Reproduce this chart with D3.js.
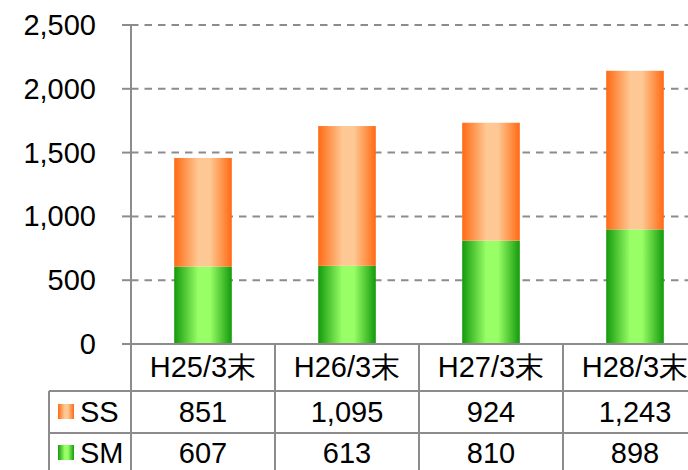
<!DOCTYPE html>
<html>
<head>
<meta charset="utf-8">
<script src="https://cdn.jsdelivr.net/npm/d3@7"></script>
<style>
  html, body { margin: 0; padding: 0; background: #fff; overflow: hidden; }
  svg { display: block; }
  text { font-family: "Liberation Sans", Arial, sans-serif; fill: #000; }
</style>
</head>
<body>
<svg id="chart" width="688" height="470"></svg>
<script>
// Year-end counts (SS stacked on top of SM)
const categories = ["H25/3末", "H26/3末", "H27/3末", "H28/3末"];
const seriesNames = ["SS", "SM"];
const ssValues = [851, 1095, 924, 1243];
const smValues = [607, 613, 810, 898];
const yTicks = [0, 500, 1000, 1500, 2000, 2500];

const svg = d3.select("#chart");
const fmt = d3.format(",");
const fontSize = 29;
const lineColor = "#8c8c8c";

const plotLeft = 131, plotRight = 707;
const x = d3.scaleBand().domain(categories).range([plotLeft, plotRight]).padding(0);
const y = d3.scaleLinear().domain([0, 2500]).range([344, 25]);
const barW = x.bandwidth() * 0.4;

// Gradients: dark edges, light centre
const defs = svg.append("defs");
function grad(id, edge, mid) {
  const g = defs.append("linearGradient").attr("id", id)
    .attr("x1", "0%").attr("x2", "100%").attr("y1", "0%").attr("y2", "0%");
  [[0, edge], [0.42, mid], [0.62, mid], [1, edge]].forEach(([o, c]) =>
    g.append("stop").attr("offset", o).attr("stop-color", c));
}
grad("gSS", "#ff6a14", "#fdc893");
grad("gSM", "#149a0c", "#99ff66");

// Horizontal gridlines
const grid = svg.append("g");
grid.selectAll("line.grid").data(yTicks.filter(d => d > 0)).join("line")
  .attr("class", "grid")
  .attr("x1", plotLeft).attr("x2", 688)
  .attr("y1", d => y(d)).attr("y2", d => y(d))
  .attr("stroke", lineColor).attr("stroke-width", 2)
  .attr("stroke-dasharray", "7.5,6");
// Tick marks left of the axis
grid.selectAll("line.tick").data(yTicks).join("line")
  .attr("class", "tick")
  .attr("x1", 122).attr("x2", plotLeft)
  .attr("y1", d => y(d)).attr("y2", d => y(d))
  .attr("stroke", lineColor).attr("stroke-width", 2);

// Y tick labels
svg.append("g").selectAll("text").data(yTicks).join("text")
  .attr("x", 96).attr("y", d => y(d))
  .attr("text-anchor", "end").attr("dominant-baseline", "central")
  .style("font-size", fontSize + "px")
  .text(d => fmt(d));

// Stacked bars
const rows = categories.map((c, i) => ({ cat: c, SM: smValues[i], SS: ssValues[i] }));
const stack = d3.stack().keys(["SM", "SS"])(rows);
svg.append("g").selectAll("g").data(stack).join("g")
  .attr("fill", d => d.key === "SS" ? "url(#gSS)" : "url(#gSM)")
  .selectAll("rect").data(d => d).join("rect")
  .attr("x", d => x(d.data.cat) + (x.bandwidth() - barW) / 2)
  .attr("width", barW)
  .attr("y", d => y(d[1]))
  .attr("height", d => y(d[0]) - y(d[1]));

// Data table lines
const rowTop = 344, rowCat = 391, rowSS = 433, bottom = 470;
const t = svg.append("g").attr("stroke", lineColor).attr("stroke-width", 2);
t.append("line").attr("x1", 122).attr("x2", 688).attr("y1", rowTop).attr("y2", rowTop);
t.append("line").attr("x1", 49).attr("x2", 688).attr("y1", rowCat).attr("y2", rowCat);
t.append("line").attr("x1", 49).attr("x2", 688).attr("y1", rowSS).attr("y2", rowSS);
t.append("line").attr("x1", 49).attr("x2", 49).attr("y1", rowCat).attr("y2", bottom);
t.append("line").attr("x1", plotLeft).attr("x2", plotLeft).attr("y1", y(2500)).attr("y2", bottom);
t.selectAll("line.col").data(categories.slice(1)).join("line")
  .attr("class", "col")
  .attr("x1", d => x(d)).attr("x2", d => x(d))
  .attr("y1", rowTop).attr("y2", bottom);

// Category labels
svg.append("g").selectAll("text").data(categories).join("text")
  .attr("x", d => x(d) + x.bandwidth() / 2).attr("y", 367)
  .attr("text-anchor", "middle").attr("dominant-baseline", "central")
  .style("font-size", fontSize + "px")
  .text(d => d);

// Value rows with legend keys
const tableRows = [
  { name: "SS", values: ssValues, fill: "url(#gSS)", cy: 412 },
  { name: "SM", values: smValues, fill: "url(#gSM)", cy: 453 }
];
tableRows.forEach(r => {
  svg.append("rect").attr("x", 58).attr("y", r.cy - 8).attr("width", 16).attr("height", 15)
    .attr("fill", r.fill);
  svg.append("text").attr("x", 80).attr("y", r.cy)
    .attr("dominant-baseline", "central").style("font-size", fontSize + "px").text(r.name);
  svg.append("g").selectAll("text").data(r.values).join("text")
    .attr("x", (d, i) => x(categories[i]) + x.bandwidth() / 2).attr("y", r.cy)
    .attr("text-anchor", "middle").attr("dominant-baseline", "central")
    .style("font-size", fontSize + "px")
    .text(d => fmt(d));
});
</script>
</body>
</html>
